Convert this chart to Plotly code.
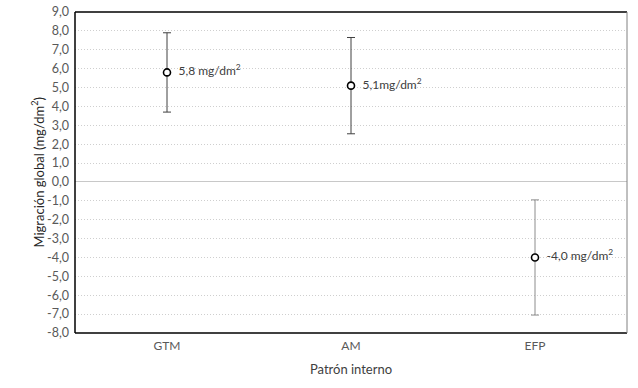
import plotly.graph_objects as go

categories = ["GTM", "AM", "EFP"]
values = [5.8, 5.1, -4.0]
errors = [2.1, 2.55, 3.05]
labels = ["5,8 mg/dm<sup>2</sup>", "5,1mg/dm<sup>2</sup>", "-4,0 mg/dm<sup>2</sup>"]
tick_vals = list(range(-8, 10))
tick_text = [f"{v},0" for v in tick_vals]
err_colors = ["#404040", "#404040", "#8c8c8c"]

FONT = "Lato, Open Sans, sans-serif"
fig = go.Figure()
for i, c in enumerate(categories):
    fig.add_trace(go.Scatter(
        x=[c], y=[values[i]], mode="markers+text",
        text=["  " + labels[i]], textposition="middle right",
        textfont=dict(family=FONT, size=12, color="#404040"),
        marker=dict(symbol="circle", size=7, color="white",
                    line=dict(color="black", width=1.6)),
        error_y=dict(type="data", array=[errors[i]], visible=True,
                     color=err_colors[i], thickness=1, width=4),
        showlegend=False, cliponaxis=False, hoverinfo="skip",
    ))

fig.update_layout(
    width=638, height=388,
    margin=dict(l=75, r=11, t=12, b=55, autoexpand=False),
    paper_bgcolor="white", plot_bgcolor="white",
    font=dict(family=FONT, color="#595959"),
    xaxis=dict(type="category", categoryorder="array", categoryarray=categories,
               range=[-0.5, 2.5], showgrid=False, zeroline=False, automargin=False,
               tickfont=dict(size=12, color="#595959"), ticks="", ticklen=0,
               ticklabelstandoff=4,
               title=dict(text="Patrón interno", font=dict(size=13, color="#404040"), standoff=12),
               showline=False),
    yaxis=dict(range=[-8, 9], tickvals=tick_vals, ticktext=tick_text, automargin=False,
               tickfont=dict(size=12.5, color="#595959"), ticklabelstandoff=5,
               showgrid=True, gridcolor="#cfcfcf", griddash="1px,2px", gridwidth=1,
               zeroline=True, zerolinecolor="#c8c8c8", zerolinewidth=1,
               showline=False, ticks=""),
    annotations=[dict(text="Migración global (mg/dm<sup>2</sup>)", textangle=-90,
                      xref="paper", yref="paper", x=0, y=0.5, xshift=-37,
                      xanchor="center", yanchor="middle", showarrow=False,
                      font=dict(family=FONT, size=13, color="#262626"))],
)
# frame: black left/top/bottom, gray right
fig.add_shape(type="line", xref="paper", yref="paper", x0=0, x1=0, y0=0, y1=1, line=dict(color="black", width=1.5))
fig.add_shape(type="line", xref="paper", yref="paper", x0=0, x1=1, y0=1, y1=1, line=dict(color="black", width=1.5))
fig.add_shape(type="line", xref="paper", yref="paper", x0=0, x1=1, y0=0, y1=0, line=dict(color="black", width=1.5))
fig.add_shape(type="line", xref="paper", yref="paper", x0=1, x1=1, y0=0, y1=1, line=dict(color="#808080", width=1))

fig.write_html("out.html", config={"displayModeBar": False},
               post_script="document.body.style.margin='0';")
